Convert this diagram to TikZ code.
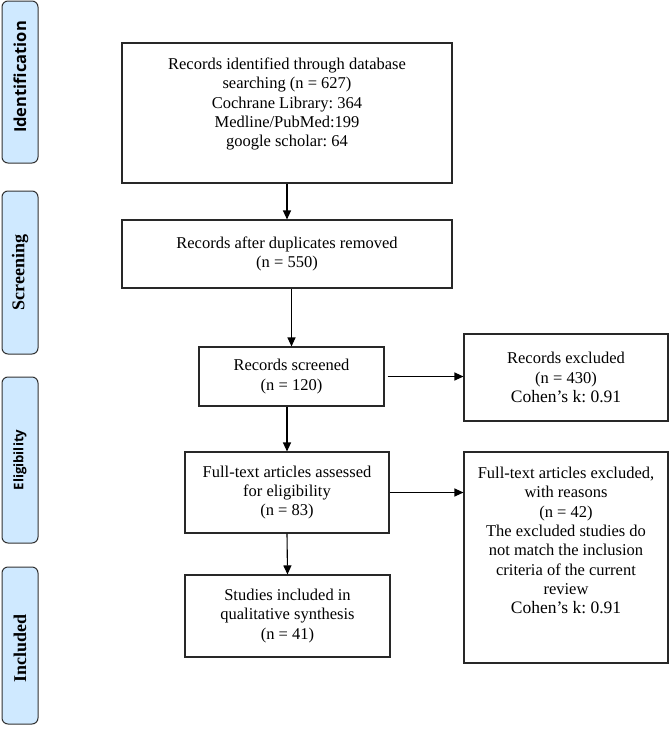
\documentclass[tikz,border=0pt]{standalone}
\usepackage{fontspec}
\setmainfont{Liberation Serif}
\newfontfamily\osans{Open Sans}
\usetikzlibrary{arrows.meta,calc}
\frenchspacing
\definecolor{stagefill}{RGB}{207,233,255}
\definecolor{stageline}{RGB}{50,50,50}
\definecolor{boxline}{RGB}{40,40,40}
\tikzset{
  flowbox/.style={draw=boxline,line width=1.1pt,inner sep=0pt,align=center,
    font=\rmfamily\fontsize{16.5}{19.3}\selectfont},
  plaintxt/.style={inner sep=0pt,align=center,font=\rmfamily\fontsize{16.5}{19.3}\selectfont},
  stagebox/.style={draw=stageline,fill=stagefill,line width=1pt,rounded corners=6pt,
    minimum width=36pt,inner sep=0pt},
  stagetxt/.style={rotate=90,inner sep=0pt},
  arr/.style={draw=black,line width=1.1pt,-{Triangle[length=9pt,width=8pt]}}
}
\newcommand{\bigk}{{\fontsize{17.5}{20}\selectfont Cohen’s k: 0.91}}
\begin{document}
\begin{tikzpicture}[x=1pt,y=-1pt]
\useasboundingbox (0,0) rectangle (669,731);
% stage labels
\node[stagebox,minimum height=162pt] (sid) at (20,82) {};
\node[stagetxt,font=\osans\bfseries\fontsize{16.5}{18}\selectfont] (sidt) at ([yshift=5pt]sid.center) {Identification};
\node[stagebox,minimum height=163pt] (ssc) at (20,272.5) {};
\node[stagetxt,font=\rmfamily\bfseries\fontsize{18}{20}\selectfont] (ssct) at (ssc.center) {Screening};
\node[stagebox,minimum height=166pt] (sel) at (20,460) {};
\node[stagetxt,font=\osans\bfseries\fontsize{13.2}{15}\selectfont] (selt) at (sel.center) {Eligibility};
\node[stagebox,minimum height=157pt] (sin) at (20,645.5) {};
\node[stagetxt,font=\rmfamily\bfseries\fontsize{18}{20}\selectfont] (sint) at ([yshift=-3pt]sin.center) {Included};
% main boxes
\node[flowbox,minimum width=330pt,minimum height=140pt] (b1) at (287,113) {};
\node[plaintxt] (b1t) at ([yshift=9pt]b1.center) {Records identified through database\\searching (n = 627)\\Cochrane Library: 364\\Medline/PubMed:199\\google scholar: 64};
\node[flowbox,minimum width=330pt,minimum height=68pt] (b2) at (287,254) {Records after duplicates removed\\(n = 550)};
\node[flowbox,minimum width=185pt,minimum height=59pt] (scr) at (291.5,376.5) {Records screened\\(n = 120)};
\node[flowbox,minimum width=204pt,minimum height=87pt] (ex1) at (566,377.5) {Records excluded\\(n = 430)\\\bigk};
\node[flowbox,minimum width=204pt,minimum height=81pt] (ft) at (287,492.5) {Full-text articles assessed\\for eligibility\\(n = 83)};
\node[flowbox,minimum width=205pt,minimum height=82pt] (inc) at (287.5,616) {Studies included in\\qualitative synthesis\\(n = 41)};
\node[flowbox,minimum width=204pt,minimum height=211pt] (ex2) at (566,557.5) {};
\node[plaintxt] (ex2t) at ([yshift=17pt]ex2.center) {Full-text articles excluded,\\with reasons\\(n = 42)\\The excluded studies do\\not match the inclusion\\criteria of the current\\review\\\bigk};
% arrows
\draw[arr] (b1.south) -- (b2.north);
\draw[arr] (b2.south -| scr.north) -- (scr.north);
\draw[arr] (scr.south -| ft.north) -- (ft.north);
\draw[arr] (ft.south) -- (inc.north);
\draw[arr] ([xshift=3pt]scr.east) -- (scr.east -| ex1.west);
\draw[arr] (ft.east) -- (ft.east -| ex2.west);
\end{tikzpicture}
\end{document}
